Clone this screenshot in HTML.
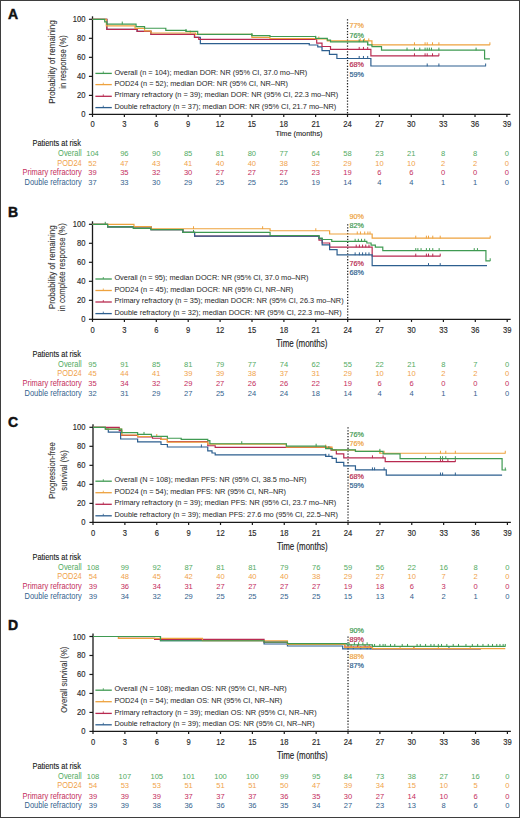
<!DOCTYPE html>
<html><head><meta charset="utf-8"><style>
html,body{margin:0;padding:0;background:#fff;}
body{width:520px;height:818px;overflow:hidden;}
.fr{position:absolute;left:0;top:0;width:518px;height:816px;border:1px solid #3e3e3e;}
svg{position:absolute;left:0;top:0;}
text{font-family:"Liberation Sans", sans-serif;}
</style></head><body>
<div class="fr"></div>
<svg width="520" height="818" viewBox="0 0 520 818">
<text x="7.90" y="18.70" font-size="14" font-weight="bold" fill="#111" stroke="#111" stroke-width="0.45">A</text>
<text transform="translate(54.50,62.00) rotate(-90)" x="0" y="0" font-size="8.9" text-anchor="middle" textLength="83.5" lengthAdjust="spacingAndGlyphs" fill="#333" stroke="#333" stroke-width="0.1">Probability of remaining</text>
<text transform="translate(65.90,62.00) rotate(-90)" x="0" y="0" font-size="8.9" text-anchor="middle" textLength="53.5" lengthAdjust="spacingAndGlyphs" fill="#333" stroke="#333" stroke-width="0.1">in response (%)</text>
<line x1="88.90" y1="114.40" x2="92.50" y2="114.40" stroke="#1a1a1a" stroke-width="1.2"/>
<text x="85.40" y="117.40" font-size="8.3" text-anchor="end" textLength="4.23" lengthAdjust="spacingAndGlyphs" fill="#2a2a2a" stroke="#2a2a2a" stroke-width="0.15">0</text>
<line x1="88.90" y1="95.38" x2="92.50" y2="95.38" stroke="#1a1a1a" stroke-width="1.2"/>
<text x="85.40" y="98.38" font-size="8.3" text-anchor="end" textLength="8.45" lengthAdjust="spacingAndGlyphs" fill="#2a2a2a" stroke="#2a2a2a" stroke-width="0.15">20</text>
<line x1="88.90" y1="76.36" x2="92.50" y2="76.36" stroke="#1a1a1a" stroke-width="1.2"/>
<text x="85.40" y="79.36" font-size="8.3" text-anchor="end" textLength="8.45" lengthAdjust="spacingAndGlyphs" fill="#2a2a2a" stroke="#2a2a2a" stroke-width="0.15">40</text>
<line x1="88.90" y1="57.34" x2="92.50" y2="57.34" stroke="#1a1a1a" stroke-width="1.2"/>
<text x="85.40" y="60.34" font-size="8.3" text-anchor="end" textLength="8.45" lengthAdjust="spacingAndGlyphs" fill="#2a2a2a" stroke="#2a2a2a" stroke-width="0.15">60</text>
<line x1="88.90" y1="38.32" x2="92.50" y2="38.32" stroke="#1a1a1a" stroke-width="1.2"/>
<text x="85.40" y="41.32" font-size="8.3" text-anchor="end" textLength="8.45" lengthAdjust="spacingAndGlyphs" fill="#2a2a2a" stroke="#2a2a2a" stroke-width="0.15">80</text>
<line x1="88.90" y1="19.30" x2="92.50" y2="19.30" stroke="#1a1a1a" stroke-width="1.2"/>
<text x="85.40" y="22.30" font-size="8.3" text-anchor="end" textLength="12.68" lengthAdjust="spacingAndGlyphs" fill="#2a2a2a" stroke="#2a2a2a" stroke-width="0.15">100</text>
<line x1="92.50" y1="114.40" x2="92.50" y2="117.00" stroke="#1a1a1a" stroke-width="1.2"/>
<text x="92.50" y="126.90" font-size="8.3" text-anchor="middle" textLength="4.23" lengthAdjust="spacingAndGlyphs" fill="#2a2a2a" stroke="#2a2a2a" stroke-width="0.15">0</text>
<line x1="124.38" y1="114.40" x2="124.38" y2="117.00" stroke="#1a1a1a" stroke-width="1.2"/>
<text x="124.38" y="126.90" font-size="8.3" text-anchor="middle" textLength="4.23" lengthAdjust="spacingAndGlyphs" fill="#2a2a2a" stroke="#2a2a2a" stroke-width="0.15">3</text>
<line x1="156.25" y1="114.40" x2="156.25" y2="117.00" stroke="#1a1a1a" stroke-width="1.2"/>
<text x="156.25" y="126.90" font-size="8.3" text-anchor="middle" textLength="4.23" lengthAdjust="spacingAndGlyphs" fill="#2a2a2a" stroke="#2a2a2a" stroke-width="0.15">6</text>
<line x1="188.13" y1="114.40" x2="188.13" y2="117.00" stroke="#1a1a1a" stroke-width="1.2"/>
<text x="188.13" y="126.90" font-size="8.3" text-anchor="middle" textLength="4.23" lengthAdjust="spacingAndGlyphs" fill="#2a2a2a" stroke="#2a2a2a" stroke-width="0.15">9</text>
<line x1="220.01" y1="114.40" x2="220.01" y2="117.00" stroke="#1a1a1a" stroke-width="1.2"/>
<text x="220.01" y="126.90" font-size="8.3" text-anchor="middle" textLength="8.45" lengthAdjust="spacingAndGlyphs" fill="#2a2a2a" stroke="#2a2a2a" stroke-width="0.15">12</text>
<line x1="251.88" y1="114.40" x2="251.88" y2="117.00" stroke="#1a1a1a" stroke-width="1.2"/>
<text x="251.88" y="126.90" font-size="8.3" text-anchor="middle" textLength="8.45" lengthAdjust="spacingAndGlyphs" fill="#2a2a2a" stroke="#2a2a2a" stroke-width="0.15">15</text>
<line x1="283.76" y1="114.40" x2="283.76" y2="117.00" stroke="#1a1a1a" stroke-width="1.2"/>
<text x="283.76" y="126.90" font-size="8.3" text-anchor="middle" textLength="8.45" lengthAdjust="spacingAndGlyphs" fill="#2a2a2a" stroke="#2a2a2a" stroke-width="0.15">18</text>
<line x1="315.64" y1="114.40" x2="315.64" y2="117.00" stroke="#1a1a1a" stroke-width="1.2"/>
<text x="315.64" y="126.90" font-size="8.3" text-anchor="middle" textLength="8.45" lengthAdjust="spacingAndGlyphs" fill="#2a2a2a" stroke="#2a2a2a" stroke-width="0.15">21</text>
<line x1="347.52" y1="114.40" x2="347.52" y2="117.00" stroke="#1a1a1a" stroke-width="1.2"/>
<text x="347.52" y="126.90" font-size="8.3" text-anchor="middle" textLength="8.45" lengthAdjust="spacingAndGlyphs" fill="#2a2a2a" stroke="#2a2a2a" stroke-width="0.15">24</text>
<line x1="379.39" y1="114.40" x2="379.39" y2="117.00" stroke="#1a1a1a" stroke-width="1.2"/>
<text x="379.39" y="126.90" font-size="8.3" text-anchor="middle" textLength="8.45" lengthAdjust="spacingAndGlyphs" fill="#2a2a2a" stroke="#2a2a2a" stroke-width="0.15">27</text>
<line x1="411.27" y1="114.40" x2="411.27" y2="117.00" stroke="#1a1a1a" stroke-width="1.2"/>
<text x="411.27" y="126.90" font-size="8.3" text-anchor="middle" textLength="8.45" lengthAdjust="spacingAndGlyphs" fill="#2a2a2a" stroke="#2a2a2a" stroke-width="0.15">30</text>
<line x1="443.15" y1="114.40" x2="443.15" y2="117.00" stroke="#1a1a1a" stroke-width="1.2"/>
<text x="443.15" y="126.90" font-size="8.3" text-anchor="middle" textLength="8.45" lengthAdjust="spacingAndGlyphs" fill="#2a2a2a" stroke="#2a2a2a" stroke-width="0.15">33</text>
<line x1="475.02" y1="114.40" x2="475.02" y2="117.00" stroke="#1a1a1a" stroke-width="1.2"/>
<text x="475.02" y="126.90" font-size="8.3" text-anchor="middle" textLength="8.45" lengthAdjust="spacingAndGlyphs" fill="#2a2a2a" stroke="#2a2a2a" stroke-width="0.15">36</text>
<line x1="506.90" y1="114.40" x2="506.90" y2="117.00" stroke="#1a1a1a" stroke-width="1.2"/>
<text x="506.90" y="126.90" font-size="8.3" text-anchor="middle" textLength="8.45" lengthAdjust="spacingAndGlyphs" fill="#2a2a2a" stroke="#2a2a2a" stroke-width="0.15">39</text>
<line x1="92.50" y1="16.30" x2="92.50" y2="115.00" stroke="#1a1a1a" stroke-width="1.3"/>
<line x1="91.90" y1="114.40" x2="510.40" y2="114.40" stroke="#1a1a1a" stroke-width="1.3"/>
<text x="299.00" y="136.30" font-size="7.4" text-anchor="middle" textLength="47" lengthAdjust="spacingAndGlyphs" fill="#222" stroke="#222" stroke-width="0.1">Time (months)</text>
<line x1="347.52" y1="19.30" x2="347.52" y2="114.40" stroke="#222" stroke-width="1.25" stroke-dasharray="1.3 1.6"/>
<path d="M92.50,19.30H106.84V29.38H137.13V31.28H150.94V34.42H194.51V37.37H200.35V43.55H309.26V44.98H317.76V46.97H322.01V50.68H329.45V54.30H336.89V58.48H370.89V65.99H485.65V65.99" fill="none" stroke="#2d5f8f" stroke-width="1.2"/>
<path d="M359.20,58.78v-2.8M363.45,58.78v-2.8M367.70,58.78v-2.8M427.21,66.29v-2.8M438.90,66.29v-2.8M485.65,66.29v-2.8" fill="none" stroke="#2d5f8f" stroke-width="1.0"/>
<path d="M92.50,19.30H106.84V29.38H137.13V31.28H150.94V34.42H194.51V37.37H198.76V39.37H316.70V43.08H322.01V46.50H330.51V49.45H370.89V55.82H438.90V55.82" fill="none" stroke="#b82a50" stroke-width="1.2"/>
<path d="M359.20,49.75v-2.8M363.45,49.75v-2.8M367.70,49.75v-2.8M414.46,56.12v-2.8M425.08,56.12v-2.8M427.21,56.12v-2.8M432.52,56.12v-2.8M438.90,56.12v-2.8" fill="none" stroke="#b82a50" stroke-width="1.0"/>
<path d="M92.50,19.30H106.31V25.96H135.00V28.43H144.57V30.90H150.94V32.99H195.57V34.42H251.88V37.37H269.95V38.51H315.64V38.99H327.33V40.89H371.95V44.79H489.90V44.79" fill="none" stroke="#eea23e" stroke-width="1.2"/>
<path d="M190.26,33.29v-2.8M318.83,39.29v-2.8M360.27,41.19v-2.8M364.52,41.19v-2.8M368.77,41.19v-2.8M414.46,45.09v-2.8M425.08,45.09v-2.8M427.21,45.09v-2.8M432.52,45.09v-2.8M438.90,45.09v-2.8M489.90,45.09v-2.8" fill="none" stroke="#eea23e" stroke-width="1.0"/>
<path d="M92.50,19.30H104.72V21.87H106.84V24.06H136.07V26.62H144.57V28.24H165.82V30.43H186.01V31.47H197.69V34.42H251.88V35.56H269.95V36.51H315.64V38.32H327.33V40.22H330.51V41.84H367.70V44.79H371.95V46.59H381.52V50.11H484.59V58.96H489.90V58.96" fill="none" stroke="#3f9a52" stroke-width="1.2"/>
<path d="M122.25,24.36v-2.8M186.01,31.77v-2.8M251.88,35.86v-2.8M315.64,38.62v-2.8M359.20,42.14v-2.8M363.45,42.14v-2.8M367.70,45.09v-2.8M407.02,50.41v-2.8M414.46,50.41v-2.8M419.77,50.41v-2.8M425.08,50.41v-2.8M427.21,50.41v-2.8M429.33,50.41v-2.8M431.46,50.41v-2.8M438.90,50.41v-2.8M476.09,50.41v-2.8" fill="none" stroke="#3f9a52" stroke-width="1.0"/>
<text x="349.40" y="27.90" font-size="7.5" textLength="14.41" lengthAdjust="spacingAndGlyphs" fill="#eea23e" stroke="#eea23e" stroke-width="0.2">77%</text>
<text x="349.40" y="37.60" font-size="7.5" textLength="14.41" lengthAdjust="spacingAndGlyphs" fill="#3f9a52" stroke="#3f9a52" stroke-width="0.2">76%</text>
<text x="349.40" y="67.40" font-size="7.5" textLength="14.41" lengthAdjust="spacingAndGlyphs" fill="#b82a50" stroke="#b82a50" stroke-width="0.2">68%</text>
<text x="349.40" y="76.50" font-size="7.5" textLength="14.41" lengthAdjust="spacingAndGlyphs" fill="#2d5f8f" stroke="#2d5f8f" stroke-width="0.2">59%</text>
<line x1="95.40" y1="73.40" x2="111.80" y2="73.40" stroke="#3f9a52" stroke-width="1.3"/>
<line x1="103.30" y1="73.40" x2="103.30" y2="71.40" stroke="#3f9a52" stroke-width="0.8"/>
<text x="114.40" y="74.50" font-size="7.8" textLength="192.85" lengthAdjust="spacingAndGlyphs" fill="#1e1e1e">Overall (n = 104); median DOR: NR (95% CI, 37.0 mo–NR)</text>
<line x1="95.40" y1="84.60" x2="111.80" y2="84.60" stroke="#eea23e" stroke-width="1.3"/>
<line x1="103.30" y1="84.60" x2="103.30" y2="82.60" stroke="#eea23e" stroke-width="0.8"/>
<text x="114.40" y="85.70" font-size="7.8" textLength="173.62" lengthAdjust="spacingAndGlyphs" fill="#1e1e1e">POD24 (n = 52); median DOR: NR (95% CI, NR–NR)</text>
<line x1="95.40" y1="96.30" x2="111.80" y2="96.30" stroke="#b82a50" stroke-width="1.3"/>
<line x1="103.30" y1="96.30" x2="103.30" y2="94.30" stroke="#b82a50" stroke-width="0.8"/>
<text x="114.40" y="97.40" font-size="7.8" textLength="223.92" lengthAdjust="spacingAndGlyphs" fill="#1e1e1e">Primary refractory (n = 39); median DOR: NR (95% CI, 22.3 mo–NR)</text>
<line x1="95.40" y1="107.60" x2="111.80" y2="107.60" stroke="#2d5f8f" stroke-width="1.3"/>
<line x1="103.30" y1="107.60" x2="103.30" y2="105.60" stroke="#2d5f8f" stroke-width="0.8"/>
<text x="114.40" y="108.70" font-size="7.8" textLength="221.89" lengthAdjust="spacingAndGlyphs" fill="#1e1e1e">Double refractory (n = 37); median DOR: NR (95% CI, 21.7 mo–NR)</text>
<text x="32.50" y="146.30" font-size="8.2" textLength="48.53" lengthAdjust="spacingAndGlyphs" fill="#151515" stroke="#151515" stroke-width="0.1">Patients at risk</text>
<text x="81.70" y="155.80" font-size="8.2" text-anchor="end" textLength="23.6" lengthAdjust="spacingAndGlyphs" fill="#52aa62">Overall</text>
<text x="92.50" y="155.80" font-size="8.0" text-anchor="middle" textLength="12.6" lengthAdjust="spacingAndGlyphs" fill="#52aa62">104</text>
<text x="124.38" y="155.80" font-size="8.0" text-anchor="middle" textLength="8.4" lengthAdjust="spacingAndGlyphs" fill="#52aa62">96</text>
<text x="156.25" y="155.80" font-size="8.0" text-anchor="middle" textLength="8.4" lengthAdjust="spacingAndGlyphs" fill="#52aa62">90</text>
<text x="188.13" y="155.80" font-size="8.0" text-anchor="middle" textLength="8.4" lengthAdjust="spacingAndGlyphs" fill="#52aa62">85</text>
<text x="220.01" y="155.80" font-size="8.0" text-anchor="middle" textLength="8.4" lengthAdjust="spacingAndGlyphs" fill="#52aa62">81</text>
<text x="251.88" y="155.80" font-size="8.0" text-anchor="middle" textLength="8.4" lengthAdjust="spacingAndGlyphs" fill="#52aa62">80</text>
<text x="283.76" y="155.80" font-size="8.0" text-anchor="middle" textLength="8.4" lengthAdjust="spacingAndGlyphs" fill="#52aa62">77</text>
<text x="315.64" y="155.80" font-size="8.0" text-anchor="middle" textLength="8.4" lengthAdjust="spacingAndGlyphs" fill="#52aa62">64</text>
<text x="347.52" y="155.80" font-size="8.0" text-anchor="middle" textLength="8.4" lengthAdjust="spacingAndGlyphs" fill="#52aa62">58</text>
<text x="379.39" y="155.80" font-size="8.0" text-anchor="middle" textLength="8.4" lengthAdjust="spacingAndGlyphs" fill="#52aa62">23</text>
<text x="411.27" y="155.80" font-size="8.0" text-anchor="middle" textLength="8.4" lengthAdjust="spacingAndGlyphs" fill="#52aa62">21</text>
<text x="443.15" y="155.80" font-size="8.0" text-anchor="middle" textLength="4.2" lengthAdjust="spacingAndGlyphs" fill="#52aa62">8</text>
<text x="475.02" y="155.80" font-size="8.0" text-anchor="middle" textLength="4.2" lengthAdjust="spacingAndGlyphs" fill="#52aa62">8</text>
<text x="506.90" y="155.80" font-size="8.0" text-anchor="middle" textLength="4.2" lengthAdjust="spacingAndGlyphs" fill="#52aa62">0</text>
<text x="81.70" y="165.60" font-size="8.2" text-anchor="end" textLength="24.43" lengthAdjust="spacingAndGlyphs" fill="#f0a24a">POD24</text>
<text x="92.50" y="165.60" font-size="8.0" text-anchor="middle" textLength="8.4" lengthAdjust="spacingAndGlyphs" fill="#f0a24a">52</text>
<text x="124.38" y="165.60" font-size="8.0" text-anchor="middle" textLength="8.4" lengthAdjust="spacingAndGlyphs" fill="#f0a24a">47</text>
<text x="156.25" y="165.60" font-size="8.0" text-anchor="middle" textLength="8.4" lengthAdjust="spacingAndGlyphs" fill="#f0a24a">43</text>
<text x="188.13" y="165.60" font-size="8.0" text-anchor="middle" textLength="8.4" lengthAdjust="spacingAndGlyphs" fill="#f0a24a">41</text>
<text x="220.01" y="165.60" font-size="8.0" text-anchor="middle" textLength="8.4" lengthAdjust="spacingAndGlyphs" fill="#f0a24a">40</text>
<text x="251.88" y="165.60" font-size="8.0" text-anchor="middle" textLength="8.4" lengthAdjust="spacingAndGlyphs" fill="#f0a24a">40</text>
<text x="283.76" y="165.60" font-size="8.0" text-anchor="middle" textLength="8.4" lengthAdjust="spacingAndGlyphs" fill="#f0a24a">38</text>
<text x="315.64" y="165.60" font-size="8.0" text-anchor="middle" textLength="8.4" lengthAdjust="spacingAndGlyphs" fill="#f0a24a">32</text>
<text x="347.52" y="165.60" font-size="8.0" text-anchor="middle" textLength="8.4" lengthAdjust="spacingAndGlyphs" fill="#f0a24a">29</text>
<text x="379.39" y="165.60" font-size="8.0" text-anchor="middle" textLength="8.4" lengthAdjust="spacingAndGlyphs" fill="#f0a24a">10</text>
<text x="411.27" y="165.60" font-size="8.0" text-anchor="middle" textLength="8.4" lengthAdjust="spacingAndGlyphs" fill="#f0a24a">10</text>
<text x="443.15" y="165.60" font-size="8.0" text-anchor="middle" textLength="4.2" lengthAdjust="spacingAndGlyphs" fill="#f0a24a">2</text>
<text x="475.02" y="165.60" font-size="8.0" text-anchor="middle" textLength="4.2" lengthAdjust="spacingAndGlyphs" fill="#f0a24a">2</text>
<text x="506.90" y="165.60" font-size="8.0" text-anchor="middle" textLength="4.2" lengthAdjust="spacingAndGlyphs" fill="#f0a24a">0</text>
<text x="81.70" y="175.20" font-size="8.2" text-anchor="end" textLength="59.19" lengthAdjust="spacingAndGlyphs" fill="#c42c5c">Primary refractory</text>
<text x="92.50" y="175.20" font-size="8.0" text-anchor="middle" textLength="8.4" lengthAdjust="spacingAndGlyphs" fill="#c42c5c">39</text>
<text x="124.38" y="175.20" font-size="8.0" text-anchor="middle" textLength="8.4" lengthAdjust="spacingAndGlyphs" fill="#c42c5c">35</text>
<text x="156.25" y="175.20" font-size="8.0" text-anchor="middle" textLength="8.4" lengthAdjust="spacingAndGlyphs" fill="#c42c5c">32</text>
<text x="188.13" y="175.20" font-size="8.0" text-anchor="middle" textLength="8.4" lengthAdjust="spacingAndGlyphs" fill="#c42c5c">30</text>
<text x="220.01" y="175.20" font-size="8.0" text-anchor="middle" textLength="8.4" lengthAdjust="spacingAndGlyphs" fill="#c42c5c">27</text>
<text x="251.88" y="175.20" font-size="8.0" text-anchor="middle" textLength="8.4" lengthAdjust="spacingAndGlyphs" fill="#c42c5c">27</text>
<text x="283.76" y="175.20" font-size="8.0" text-anchor="middle" textLength="8.4" lengthAdjust="spacingAndGlyphs" fill="#c42c5c">27</text>
<text x="315.64" y="175.20" font-size="8.0" text-anchor="middle" textLength="8.4" lengthAdjust="spacingAndGlyphs" fill="#c42c5c">23</text>
<text x="347.52" y="175.20" font-size="8.0" text-anchor="middle" textLength="8.4" lengthAdjust="spacingAndGlyphs" fill="#c42c5c">19</text>
<text x="379.39" y="175.20" font-size="8.0" text-anchor="middle" textLength="4.2" lengthAdjust="spacingAndGlyphs" fill="#c42c5c">6</text>
<text x="411.27" y="175.20" font-size="8.0" text-anchor="middle" textLength="4.2" lengthAdjust="spacingAndGlyphs" fill="#c42c5c">6</text>
<text x="443.15" y="175.20" font-size="8.0" text-anchor="middle" textLength="4.2" lengthAdjust="spacingAndGlyphs" fill="#c42c5c">0</text>
<text x="475.02" y="175.20" font-size="8.0" text-anchor="middle" textLength="4.2" lengthAdjust="spacingAndGlyphs" fill="#c42c5c">0</text>
<text x="506.90" y="175.20" font-size="8.0" text-anchor="middle" textLength="4.2" lengthAdjust="spacingAndGlyphs" fill="#c42c5c">0</text>
<text x="81.70" y="185.20" font-size="8.2" text-anchor="end" textLength="57.14" lengthAdjust="spacingAndGlyphs" fill="#345f8e">Double refractory</text>
<text x="92.50" y="185.20" font-size="8.0" text-anchor="middle" textLength="8.4" lengthAdjust="spacingAndGlyphs" fill="#345f8e">37</text>
<text x="124.38" y="185.20" font-size="8.0" text-anchor="middle" textLength="8.4" lengthAdjust="spacingAndGlyphs" fill="#345f8e">33</text>
<text x="156.25" y="185.20" font-size="8.0" text-anchor="middle" textLength="8.4" lengthAdjust="spacingAndGlyphs" fill="#345f8e">30</text>
<text x="188.13" y="185.20" font-size="8.0" text-anchor="middle" textLength="8.4" lengthAdjust="spacingAndGlyphs" fill="#345f8e">29</text>
<text x="220.01" y="185.20" font-size="8.0" text-anchor="middle" textLength="8.4" lengthAdjust="spacingAndGlyphs" fill="#345f8e">25</text>
<text x="251.88" y="185.20" font-size="8.0" text-anchor="middle" textLength="8.4" lengthAdjust="spacingAndGlyphs" fill="#345f8e">25</text>
<text x="283.76" y="185.20" font-size="8.0" text-anchor="middle" textLength="8.4" lengthAdjust="spacingAndGlyphs" fill="#345f8e">25</text>
<text x="315.64" y="185.20" font-size="8.0" text-anchor="middle" textLength="8.4" lengthAdjust="spacingAndGlyphs" fill="#345f8e">19</text>
<text x="347.52" y="185.20" font-size="8.0" text-anchor="middle" textLength="8.4" lengthAdjust="spacingAndGlyphs" fill="#345f8e">14</text>
<text x="379.39" y="185.20" font-size="8.0" text-anchor="middle" textLength="4.2" lengthAdjust="spacingAndGlyphs" fill="#345f8e">4</text>
<text x="411.27" y="185.20" font-size="8.0" text-anchor="middle" textLength="4.2" lengthAdjust="spacingAndGlyphs" fill="#345f8e">4</text>
<text x="443.15" y="185.20" font-size="8.0" text-anchor="middle" textLength="4.2" lengthAdjust="spacingAndGlyphs" fill="#345f8e">1</text>
<text x="475.02" y="185.20" font-size="8.0" text-anchor="middle" textLength="4.2" lengthAdjust="spacingAndGlyphs" fill="#345f8e">1</text>
<text x="506.90" y="185.20" font-size="8.0" text-anchor="middle" textLength="4.2" lengthAdjust="spacingAndGlyphs" fill="#345f8e">0</text>
<text x="7.90" y="216.70" font-size="14" font-weight="bold" fill="#111" stroke="#111" stroke-width="0.45">B</text>
<text transform="translate(54.60,267.20) rotate(-90)" x="0" y="0" font-size="8.9" text-anchor="middle" textLength="84" lengthAdjust="spacingAndGlyphs" fill="#333" stroke="#333" stroke-width="0.1">Probability of remaining</text>
<text transform="translate(65.40,267.20) rotate(-90)" x="0" y="0" font-size="8.9" text-anchor="middle" textLength="88" lengthAdjust="spacingAndGlyphs" fill="#333" stroke="#333" stroke-width="0.1">in complete response (%)</text>
<line x1="88.90" y1="319.30" x2="92.50" y2="319.30" stroke="#1a1a1a" stroke-width="1.2"/>
<text x="85.40" y="322.30" font-size="8.3" text-anchor="end" textLength="4.23" lengthAdjust="spacingAndGlyphs" fill="#2a2a2a" stroke="#2a2a2a" stroke-width="0.15">0</text>
<line x1="88.90" y1="300.30" x2="92.50" y2="300.30" stroke="#1a1a1a" stroke-width="1.2"/>
<text x="85.40" y="303.30" font-size="8.3" text-anchor="end" textLength="8.45" lengthAdjust="spacingAndGlyphs" fill="#2a2a2a" stroke="#2a2a2a" stroke-width="0.15">20</text>
<line x1="88.90" y1="281.30" x2="92.50" y2="281.30" stroke="#1a1a1a" stroke-width="1.2"/>
<text x="85.40" y="284.30" font-size="8.3" text-anchor="end" textLength="8.45" lengthAdjust="spacingAndGlyphs" fill="#2a2a2a" stroke="#2a2a2a" stroke-width="0.15">40</text>
<line x1="88.90" y1="262.30" x2="92.50" y2="262.30" stroke="#1a1a1a" stroke-width="1.2"/>
<text x="85.40" y="265.30" font-size="8.3" text-anchor="end" textLength="8.45" lengthAdjust="spacingAndGlyphs" fill="#2a2a2a" stroke="#2a2a2a" stroke-width="0.15">60</text>
<line x1="88.90" y1="243.30" x2="92.50" y2="243.30" stroke="#1a1a1a" stroke-width="1.2"/>
<text x="85.40" y="246.30" font-size="8.3" text-anchor="end" textLength="8.45" lengthAdjust="spacingAndGlyphs" fill="#2a2a2a" stroke="#2a2a2a" stroke-width="0.15">80</text>
<line x1="88.90" y1="224.30" x2="92.50" y2="224.30" stroke="#1a1a1a" stroke-width="1.2"/>
<text x="85.40" y="227.30" font-size="8.3" text-anchor="end" textLength="12.68" lengthAdjust="spacingAndGlyphs" fill="#2a2a2a" stroke="#2a2a2a" stroke-width="0.15">100</text>
<line x1="92.50" y1="319.30" x2="92.50" y2="321.90" stroke="#1a1a1a" stroke-width="1.2"/>
<text x="92.50" y="332.60" font-size="8.3" text-anchor="middle" textLength="4.23" lengthAdjust="spacingAndGlyphs" fill="#2a2a2a" stroke="#2a2a2a" stroke-width="0.15">0</text>
<line x1="124.40" y1="319.30" x2="124.40" y2="321.90" stroke="#1a1a1a" stroke-width="1.2"/>
<text x="124.40" y="332.60" font-size="8.3" text-anchor="middle" textLength="4.23" lengthAdjust="spacingAndGlyphs" fill="#2a2a2a" stroke="#2a2a2a" stroke-width="0.15">3</text>
<line x1="156.30" y1="319.30" x2="156.30" y2="321.90" stroke="#1a1a1a" stroke-width="1.2"/>
<text x="156.30" y="332.60" font-size="8.3" text-anchor="middle" textLength="4.23" lengthAdjust="spacingAndGlyphs" fill="#2a2a2a" stroke="#2a2a2a" stroke-width="0.15">6</text>
<line x1="188.20" y1="319.30" x2="188.20" y2="321.90" stroke="#1a1a1a" stroke-width="1.2"/>
<text x="188.20" y="332.60" font-size="8.3" text-anchor="middle" textLength="4.23" lengthAdjust="spacingAndGlyphs" fill="#2a2a2a" stroke="#2a2a2a" stroke-width="0.15">9</text>
<line x1="220.10" y1="319.30" x2="220.10" y2="321.90" stroke="#1a1a1a" stroke-width="1.2"/>
<text x="220.10" y="332.60" font-size="8.3" text-anchor="middle" textLength="8.45" lengthAdjust="spacingAndGlyphs" fill="#2a2a2a" stroke="#2a2a2a" stroke-width="0.15">12</text>
<line x1="252.00" y1="319.30" x2="252.00" y2="321.90" stroke="#1a1a1a" stroke-width="1.2"/>
<text x="252.00" y="332.60" font-size="8.3" text-anchor="middle" textLength="8.45" lengthAdjust="spacingAndGlyphs" fill="#2a2a2a" stroke="#2a2a2a" stroke-width="0.15">15</text>
<line x1="283.90" y1="319.30" x2="283.90" y2="321.90" stroke="#1a1a1a" stroke-width="1.2"/>
<text x="283.90" y="332.60" font-size="8.3" text-anchor="middle" textLength="8.45" lengthAdjust="spacingAndGlyphs" fill="#2a2a2a" stroke="#2a2a2a" stroke-width="0.15">18</text>
<line x1="315.80" y1="319.30" x2="315.80" y2="321.90" stroke="#1a1a1a" stroke-width="1.2"/>
<text x="315.80" y="332.60" font-size="8.3" text-anchor="middle" textLength="8.45" lengthAdjust="spacingAndGlyphs" fill="#2a2a2a" stroke="#2a2a2a" stroke-width="0.15">21</text>
<line x1="347.70" y1="319.30" x2="347.70" y2="321.90" stroke="#1a1a1a" stroke-width="1.2"/>
<text x="347.70" y="332.60" font-size="8.3" text-anchor="middle" textLength="8.45" lengthAdjust="spacingAndGlyphs" fill="#2a2a2a" stroke="#2a2a2a" stroke-width="0.15">24</text>
<line x1="379.60" y1="319.30" x2="379.60" y2="321.90" stroke="#1a1a1a" stroke-width="1.2"/>
<text x="379.60" y="332.60" font-size="8.3" text-anchor="middle" textLength="8.45" lengthAdjust="spacingAndGlyphs" fill="#2a2a2a" stroke="#2a2a2a" stroke-width="0.15">27</text>
<line x1="411.50" y1="319.30" x2="411.50" y2="321.90" stroke="#1a1a1a" stroke-width="1.2"/>
<text x="411.50" y="332.60" font-size="8.3" text-anchor="middle" textLength="8.45" lengthAdjust="spacingAndGlyphs" fill="#2a2a2a" stroke="#2a2a2a" stroke-width="0.15">30</text>
<line x1="443.40" y1="319.30" x2="443.40" y2="321.90" stroke="#1a1a1a" stroke-width="1.2"/>
<text x="443.40" y="332.60" font-size="8.3" text-anchor="middle" textLength="8.45" lengthAdjust="spacingAndGlyphs" fill="#2a2a2a" stroke="#2a2a2a" stroke-width="0.15">33</text>
<line x1="475.30" y1="319.30" x2="475.30" y2="321.90" stroke="#1a1a1a" stroke-width="1.2"/>
<text x="475.30" y="332.60" font-size="8.3" text-anchor="middle" textLength="8.45" lengthAdjust="spacingAndGlyphs" fill="#2a2a2a" stroke="#2a2a2a" stroke-width="0.15">36</text>
<line x1="507.20" y1="319.30" x2="507.20" y2="321.90" stroke="#1a1a1a" stroke-width="1.2"/>
<text x="507.20" y="332.60" font-size="8.3" text-anchor="middle" textLength="8.45" lengthAdjust="spacingAndGlyphs" fill="#2a2a2a" stroke="#2a2a2a" stroke-width="0.15">39</text>
<line x1="92.50" y1="221.30" x2="92.50" y2="319.90" stroke="#1a1a1a" stroke-width="1.3"/>
<line x1="91.90" y1="319.30" x2="510.70" y2="319.30" stroke="#1a1a1a" stroke-width="1.3"/>
<text x="276.30" y="346.70" font-size="10.4" textLength="51" lengthAdjust="spacingAndGlyphs" fill="#222" stroke="#222" stroke-width="0.15">Time (months)</text>
<line x1="347.70" y1="224.30" x2="347.70" y2="319.30" stroke="#222" stroke-width="1.25" stroke-dasharray="1.3 1.6"/>
<path d="M92.50,224.30H107.60V226.87H150.98V229.53H182.88V232.47H194.58V236.08H318.99V240.07H322.18V243.02H329.62V247.10H372.16V256.12H440.21V256.12" fill="none" stroke="#b82a50" stroke-width="1.2"/>
<path d="M356.21,247.40v-2.8M359.40,247.40v-2.8M362.59,247.40v-2.8M365.78,247.40v-2.8M368.97,247.40v-2.8M415.75,256.43v-2.8M426.39,256.43v-2.8M428.51,256.43v-2.8M432.77,256.43v-2.8M440.21,256.43v-2.8" fill="none" stroke="#b82a50" stroke-width="1.0"/>
<path d="M92.50,224.30H107.60V226.87H150.98V229.53H182.88V232.47H194.58V236.08H318.99V238.55H322.18V244.92H329.62V249.67H337.07V254.89H372.16V265.62H487.00V265.62" fill="none" stroke="#2d5f8f" stroke-width="1.2"/>
<path d="M355.14,255.19v-2.8M359.40,255.19v-2.8M362.59,255.19v-2.8M365.78,255.19v-2.8M368.97,255.19v-2.8M428.51,265.93v-2.8M440.21,265.93v-2.8" fill="none" stroke="#2d5f8f" stroke-width="1.0"/>
<path d="M92.50,224.30H133.97V226.68H150.98V228.77H270.08V230.76H329.62V233.99H372.16V238.17H490.19V238.17" fill="none" stroke="#eea23e" stroke-width="1.2"/>
<path d="M193.52,229.07v-2.8M262.63,229.07v-2.8M315.80,231.06v-2.8M357.27,234.29v-2.8M360.46,234.29v-2.8M364.71,234.29v-2.8M367.90,234.29v-2.8M370.03,234.29v-2.8M415.75,238.47v-2.8M426.39,238.47v-2.8M428.51,238.47v-2.8M432.77,238.47v-2.8M440.21,238.47v-2.8M490.19,238.47v-2.8" fill="none" stroke="#eea23e" stroke-width="1.0"/>
<path d="M92.50,224.30H107.60V226.87H133.23V228.29H150.98V229.53H182.88V232.47H270.08V235.51H318.99V238.17H322.18V239.50H331.75V241.31H366.84V243.02H371.09V245.20H375.35V247.10H382.79V250.62H485.93V260.78H490.19V260.78" fill="none" stroke="#3f9a52" stroke-width="1.2"/>
<path d="M105.26,224.60v-2.8M193.52,232.77v-2.8M355.14,241.61v-2.8M358.33,241.61v-2.8M361.52,241.61v-2.8M364.71,241.61v-2.8M415.75,250.92v-2.8M417.88,250.92v-2.8M421.07,250.92v-2.8M426.39,250.92v-2.8M429.58,250.92v-2.8M432.77,250.92v-2.8M439.15,250.92v-2.8M474.24,250.92v-2.8M477.43,250.92v-2.8M490.19,261.08v-2.8" fill="none" stroke="#3f9a52" stroke-width="1.0"/>
<text x="349.40" y="218.60" font-size="7.5" textLength="14.41" lengthAdjust="spacingAndGlyphs" fill="#eea23e" stroke="#eea23e" stroke-width="0.2">90%</text>
<text x="349.40" y="227.80" font-size="7.5" textLength="14.41" lengthAdjust="spacingAndGlyphs" fill="#3f9a52" stroke="#3f9a52" stroke-width="0.2">82%</text>
<text x="349.40" y="265.60" font-size="7.5" textLength="14.41" lengthAdjust="spacingAndGlyphs" fill="#b82a50" stroke="#b82a50" stroke-width="0.2">76%</text>
<text x="349.40" y="274.80" font-size="7.5" textLength="14.41" lengthAdjust="spacingAndGlyphs" fill="#2d5f8f" stroke="#2d5f8f" stroke-width="0.2">68%</text>
<line x1="95.40" y1="279.00" x2="111.80" y2="279.00" stroke="#3f9a52" stroke-width="1.3"/>
<line x1="103.30" y1="279.00" x2="103.30" y2="277.00" stroke="#3f9a52" stroke-width="0.8"/>
<text x="114.40" y="280.10" font-size="7.8" textLength="194.07" lengthAdjust="spacingAndGlyphs" fill="#1e1e1e">Overall (n = 95); median DOCR: NR (95% CI, 37.0 mo–NR)</text>
<line x1="95.40" y1="290.50" x2="111.80" y2="290.50" stroke="#eea23e" stroke-width="1.3"/>
<line x1="103.30" y1="290.50" x2="103.30" y2="288.50" stroke="#eea23e" stroke-width="0.8"/>
<text x="114.40" y="291.60" font-size="7.8" textLength="178.93" lengthAdjust="spacingAndGlyphs" fill="#1e1e1e">POD24 (n = 45); median DOCR: NR (95% CI, NR–NR)</text>
<line x1="95.40" y1="302.00" x2="111.80" y2="302.00" stroke="#b82a50" stroke-width="1.3"/>
<line x1="103.30" y1="302.00" x2="103.30" y2="300.00" stroke="#b82a50" stroke-width="0.8"/>
<text x="114.40" y="303.10" font-size="7.8" textLength="229.23" lengthAdjust="spacingAndGlyphs" fill="#1e1e1e">Primary refractory (n = 35); median DOCR: NR (95% CI, 26.3 mo–NR)</text>
<line x1="95.40" y1="313.60" x2="111.80" y2="313.60" stroke="#2d5f8f" stroke-width="1.3"/>
<line x1="103.30" y1="313.60" x2="103.30" y2="311.60" stroke="#2d5f8f" stroke-width="0.8"/>
<text x="114.40" y="314.70" font-size="7.8" textLength="227.21" lengthAdjust="spacingAndGlyphs" fill="#1e1e1e">Double refractory (n = 32); median DOCR: NR (95% CI, 22.3 mo–NR)</text>
<text x="32.50" y="356.70" font-size="8.2" textLength="48.53" lengthAdjust="spacingAndGlyphs" fill="#151515" stroke="#151515" stroke-width="0.1">Patients at risk</text>
<text x="81.70" y="366.50" font-size="8.2" text-anchor="end" textLength="23.6" lengthAdjust="spacingAndGlyphs" fill="#52aa62">Overall</text>
<text x="92.50" y="366.50" font-size="8.0" text-anchor="middle" textLength="8.4" lengthAdjust="spacingAndGlyphs" fill="#52aa62">95</text>
<text x="124.40" y="366.50" font-size="8.0" text-anchor="middle" textLength="8.4" lengthAdjust="spacingAndGlyphs" fill="#52aa62">91</text>
<text x="156.30" y="366.50" font-size="8.0" text-anchor="middle" textLength="8.4" lengthAdjust="spacingAndGlyphs" fill="#52aa62">85</text>
<text x="188.20" y="366.50" font-size="8.0" text-anchor="middle" textLength="8.4" lengthAdjust="spacingAndGlyphs" fill="#52aa62">81</text>
<text x="220.10" y="366.50" font-size="8.0" text-anchor="middle" textLength="8.4" lengthAdjust="spacingAndGlyphs" fill="#52aa62">79</text>
<text x="252.00" y="366.50" font-size="8.0" text-anchor="middle" textLength="8.4" lengthAdjust="spacingAndGlyphs" fill="#52aa62">77</text>
<text x="283.90" y="366.50" font-size="8.0" text-anchor="middle" textLength="8.4" lengthAdjust="spacingAndGlyphs" fill="#52aa62">74</text>
<text x="315.80" y="366.50" font-size="8.0" text-anchor="middle" textLength="8.4" lengthAdjust="spacingAndGlyphs" fill="#52aa62">62</text>
<text x="347.70" y="366.50" font-size="8.0" text-anchor="middle" textLength="8.4" lengthAdjust="spacingAndGlyphs" fill="#52aa62">55</text>
<text x="379.60" y="366.50" font-size="8.0" text-anchor="middle" textLength="8.4" lengthAdjust="spacingAndGlyphs" fill="#52aa62">22</text>
<text x="411.50" y="366.50" font-size="8.0" text-anchor="middle" textLength="8.4" lengthAdjust="spacingAndGlyphs" fill="#52aa62">21</text>
<text x="443.40" y="366.50" font-size="8.0" text-anchor="middle" textLength="4.2" lengthAdjust="spacingAndGlyphs" fill="#52aa62">8</text>
<text x="475.30" y="366.50" font-size="8.0" text-anchor="middle" textLength="4.2" lengthAdjust="spacingAndGlyphs" fill="#52aa62">7</text>
<text x="507.20" y="366.50" font-size="8.0" text-anchor="middle" textLength="4.2" lengthAdjust="spacingAndGlyphs" fill="#52aa62">0</text>
<text x="81.70" y="376.30" font-size="8.2" text-anchor="end" textLength="24.43" lengthAdjust="spacingAndGlyphs" fill="#f0a24a">POD24</text>
<text x="92.50" y="376.30" font-size="8.0" text-anchor="middle" textLength="8.4" lengthAdjust="spacingAndGlyphs" fill="#f0a24a">45</text>
<text x="124.40" y="376.30" font-size="8.0" text-anchor="middle" textLength="8.4" lengthAdjust="spacingAndGlyphs" fill="#f0a24a">44</text>
<text x="156.30" y="376.30" font-size="8.0" text-anchor="middle" textLength="8.4" lengthAdjust="spacingAndGlyphs" fill="#f0a24a">41</text>
<text x="188.20" y="376.30" font-size="8.0" text-anchor="middle" textLength="8.4" lengthAdjust="spacingAndGlyphs" fill="#f0a24a">39</text>
<text x="220.10" y="376.30" font-size="8.0" text-anchor="middle" textLength="8.4" lengthAdjust="spacingAndGlyphs" fill="#f0a24a">39</text>
<text x="252.00" y="376.30" font-size="8.0" text-anchor="middle" textLength="8.4" lengthAdjust="spacingAndGlyphs" fill="#f0a24a">38</text>
<text x="283.90" y="376.30" font-size="8.0" text-anchor="middle" textLength="8.4" lengthAdjust="spacingAndGlyphs" fill="#f0a24a">37</text>
<text x="315.80" y="376.30" font-size="8.0" text-anchor="middle" textLength="8.4" lengthAdjust="spacingAndGlyphs" fill="#f0a24a">31</text>
<text x="347.70" y="376.30" font-size="8.0" text-anchor="middle" textLength="8.4" lengthAdjust="spacingAndGlyphs" fill="#f0a24a">29</text>
<text x="379.60" y="376.30" font-size="8.0" text-anchor="middle" textLength="8.4" lengthAdjust="spacingAndGlyphs" fill="#f0a24a">10</text>
<text x="411.50" y="376.30" font-size="8.0" text-anchor="middle" textLength="8.4" lengthAdjust="spacingAndGlyphs" fill="#f0a24a">10</text>
<text x="443.40" y="376.30" font-size="8.0" text-anchor="middle" textLength="4.2" lengthAdjust="spacingAndGlyphs" fill="#f0a24a">2</text>
<text x="475.30" y="376.30" font-size="8.0" text-anchor="middle" textLength="4.2" lengthAdjust="spacingAndGlyphs" fill="#f0a24a">2</text>
<text x="507.20" y="376.30" font-size="8.0" text-anchor="middle" textLength="4.2" lengthAdjust="spacingAndGlyphs" fill="#f0a24a">0</text>
<text x="81.70" y="386.00" font-size="8.2" text-anchor="end" textLength="59.19" lengthAdjust="spacingAndGlyphs" fill="#c42c5c">Primary refractory</text>
<text x="92.50" y="386.00" font-size="8.0" text-anchor="middle" textLength="8.4" lengthAdjust="spacingAndGlyphs" fill="#c42c5c">35</text>
<text x="124.40" y="386.00" font-size="8.0" text-anchor="middle" textLength="8.4" lengthAdjust="spacingAndGlyphs" fill="#c42c5c">34</text>
<text x="156.30" y="386.00" font-size="8.0" text-anchor="middle" textLength="8.4" lengthAdjust="spacingAndGlyphs" fill="#c42c5c">32</text>
<text x="188.20" y="386.00" font-size="8.0" text-anchor="middle" textLength="8.4" lengthAdjust="spacingAndGlyphs" fill="#c42c5c">29</text>
<text x="220.10" y="386.00" font-size="8.0" text-anchor="middle" textLength="8.4" lengthAdjust="spacingAndGlyphs" fill="#c42c5c">27</text>
<text x="252.00" y="386.00" font-size="8.0" text-anchor="middle" textLength="8.4" lengthAdjust="spacingAndGlyphs" fill="#c42c5c">26</text>
<text x="283.90" y="386.00" font-size="8.0" text-anchor="middle" textLength="8.4" lengthAdjust="spacingAndGlyphs" fill="#c42c5c">26</text>
<text x="315.80" y="386.00" font-size="8.0" text-anchor="middle" textLength="8.4" lengthAdjust="spacingAndGlyphs" fill="#c42c5c">22</text>
<text x="347.70" y="386.00" font-size="8.0" text-anchor="middle" textLength="8.4" lengthAdjust="spacingAndGlyphs" fill="#c42c5c">19</text>
<text x="379.60" y="386.00" font-size="8.0" text-anchor="middle" textLength="4.2" lengthAdjust="spacingAndGlyphs" fill="#c42c5c">6</text>
<text x="411.50" y="386.00" font-size="8.0" text-anchor="middle" textLength="4.2" lengthAdjust="spacingAndGlyphs" fill="#c42c5c">6</text>
<text x="443.40" y="386.00" font-size="8.0" text-anchor="middle" textLength="4.2" lengthAdjust="spacingAndGlyphs" fill="#c42c5c">0</text>
<text x="475.30" y="386.00" font-size="8.0" text-anchor="middle" textLength="4.2" lengthAdjust="spacingAndGlyphs" fill="#c42c5c">0</text>
<text x="507.20" y="386.00" font-size="8.0" text-anchor="middle" textLength="4.2" lengthAdjust="spacingAndGlyphs" fill="#c42c5c">0</text>
<text x="81.70" y="396.00" font-size="8.2" text-anchor="end" textLength="57.14" lengthAdjust="spacingAndGlyphs" fill="#345f8e">Double refractory</text>
<text x="92.50" y="396.00" font-size="8.0" text-anchor="middle" textLength="8.4" lengthAdjust="spacingAndGlyphs" fill="#345f8e">32</text>
<text x="124.40" y="396.00" font-size="8.0" text-anchor="middle" textLength="8.4" lengthAdjust="spacingAndGlyphs" fill="#345f8e">31</text>
<text x="156.30" y="396.00" font-size="8.0" text-anchor="middle" textLength="8.4" lengthAdjust="spacingAndGlyphs" fill="#345f8e">29</text>
<text x="188.20" y="396.00" font-size="8.0" text-anchor="middle" textLength="8.4" lengthAdjust="spacingAndGlyphs" fill="#345f8e">27</text>
<text x="220.10" y="396.00" font-size="8.0" text-anchor="middle" textLength="8.4" lengthAdjust="spacingAndGlyphs" fill="#345f8e">25</text>
<text x="252.00" y="396.00" font-size="8.0" text-anchor="middle" textLength="8.4" lengthAdjust="spacingAndGlyphs" fill="#345f8e">24</text>
<text x="283.90" y="396.00" font-size="8.0" text-anchor="middle" textLength="8.4" lengthAdjust="spacingAndGlyphs" fill="#345f8e">24</text>
<text x="315.80" y="396.00" font-size="8.0" text-anchor="middle" textLength="8.4" lengthAdjust="spacingAndGlyphs" fill="#345f8e">18</text>
<text x="347.70" y="396.00" font-size="8.0" text-anchor="middle" textLength="8.4" lengthAdjust="spacingAndGlyphs" fill="#345f8e">14</text>
<text x="379.60" y="396.00" font-size="8.0" text-anchor="middle" textLength="4.2" lengthAdjust="spacingAndGlyphs" fill="#345f8e">4</text>
<text x="411.50" y="396.00" font-size="8.0" text-anchor="middle" textLength="4.2" lengthAdjust="spacingAndGlyphs" fill="#345f8e">4</text>
<text x="443.40" y="396.00" font-size="8.0" text-anchor="middle" textLength="4.2" lengthAdjust="spacingAndGlyphs" fill="#345f8e">1</text>
<text x="475.30" y="396.00" font-size="8.0" text-anchor="middle" textLength="4.2" lengthAdjust="spacingAndGlyphs" fill="#345f8e">1</text>
<text x="507.20" y="396.00" font-size="8.0" text-anchor="middle" textLength="4.2" lengthAdjust="spacingAndGlyphs" fill="#345f8e">0</text>
<text x="7.90" y="426.70" font-size="14" font-weight="bold" fill="#111" stroke="#111" stroke-width="0.45">C</text>
<text transform="translate(55.40,470.50) rotate(-90)" x="0" y="0" font-size="9.6" text-anchor="middle" textLength="56.6" lengthAdjust="spacingAndGlyphs" fill="#333" stroke="#333" stroke-width="0.1">Progression-free</text>
<text transform="translate(67.00,470.50) rotate(-90)" x="0" y="0" font-size="9.6" text-anchor="middle" textLength="40.4" lengthAdjust="spacingAndGlyphs" fill="#333" stroke="#333" stroke-width="0.1">survival (%)</text>
<line x1="89.40" y1="522.40" x2="93.00" y2="522.40" stroke="#1a1a1a" stroke-width="1.2"/>
<text x="85.40" y="525.40" font-size="8.3" text-anchor="end" textLength="4.23" lengthAdjust="spacingAndGlyphs" fill="#2a2a2a" stroke="#2a2a2a" stroke-width="0.15">0</text>
<line x1="89.40" y1="503.38" x2="93.00" y2="503.38" stroke="#1a1a1a" stroke-width="1.2"/>
<text x="85.40" y="506.38" font-size="8.3" text-anchor="end" textLength="8.45" lengthAdjust="spacingAndGlyphs" fill="#2a2a2a" stroke="#2a2a2a" stroke-width="0.15">20</text>
<line x1="89.40" y1="484.36" x2="93.00" y2="484.36" stroke="#1a1a1a" stroke-width="1.2"/>
<text x="85.40" y="487.36" font-size="8.3" text-anchor="end" textLength="8.45" lengthAdjust="spacingAndGlyphs" fill="#2a2a2a" stroke="#2a2a2a" stroke-width="0.15">40</text>
<line x1="89.40" y1="465.34" x2="93.00" y2="465.34" stroke="#1a1a1a" stroke-width="1.2"/>
<text x="85.40" y="468.34" font-size="8.3" text-anchor="end" textLength="8.45" lengthAdjust="spacingAndGlyphs" fill="#2a2a2a" stroke="#2a2a2a" stroke-width="0.15">60</text>
<line x1="89.40" y1="446.32" x2="93.00" y2="446.32" stroke="#1a1a1a" stroke-width="1.2"/>
<text x="85.40" y="449.32" font-size="8.3" text-anchor="end" textLength="8.45" lengthAdjust="spacingAndGlyphs" fill="#2a2a2a" stroke="#2a2a2a" stroke-width="0.15">80</text>
<line x1="89.40" y1="427.30" x2="93.00" y2="427.30" stroke="#1a1a1a" stroke-width="1.2"/>
<text x="85.40" y="430.30" font-size="8.3" text-anchor="end" textLength="12.68" lengthAdjust="spacingAndGlyphs" fill="#2a2a2a" stroke="#2a2a2a" stroke-width="0.15">100</text>
<line x1="93.00" y1="522.40" x2="93.00" y2="525.00" stroke="#1a1a1a" stroke-width="1.2"/>
<text x="93.00" y="535.70" font-size="8.3" text-anchor="middle" textLength="4.23" lengthAdjust="spacingAndGlyphs" fill="#2a2a2a" stroke="#2a2a2a" stroke-width="0.15">0</text>
<line x1="124.88" y1="522.40" x2="124.88" y2="525.00" stroke="#1a1a1a" stroke-width="1.2"/>
<text x="124.88" y="535.70" font-size="8.3" text-anchor="middle" textLength="4.23" lengthAdjust="spacingAndGlyphs" fill="#2a2a2a" stroke="#2a2a2a" stroke-width="0.15">3</text>
<line x1="156.75" y1="522.40" x2="156.75" y2="525.00" stroke="#1a1a1a" stroke-width="1.2"/>
<text x="156.75" y="535.70" font-size="8.3" text-anchor="middle" textLength="4.23" lengthAdjust="spacingAndGlyphs" fill="#2a2a2a" stroke="#2a2a2a" stroke-width="0.15">6</text>
<line x1="188.63" y1="522.40" x2="188.63" y2="525.00" stroke="#1a1a1a" stroke-width="1.2"/>
<text x="188.63" y="535.70" font-size="8.3" text-anchor="middle" textLength="4.23" lengthAdjust="spacingAndGlyphs" fill="#2a2a2a" stroke="#2a2a2a" stroke-width="0.15">9</text>
<line x1="220.51" y1="522.40" x2="220.51" y2="525.00" stroke="#1a1a1a" stroke-width="1.2"/>
<text x="220.51" y="535.70" font-size="8.3" text-anchor="middle" textLength="8.45" lengthAdjust="spacingAndGlyphs" fill="#2a2a2a" stroke="#2a2a2a" stroke-width="0.15">12</text>
<line x1="252.38" y1="522.40" x2="252.38" y2="525.00" stroke="#1a1a1a" stroke-width="1.2"/>
<text x="252.38" y="535.70" font-size="8.3" text-anchor="middle" textLength="8.45" lengthAdjust="spacingAndGlyphs" fill="#2a2a2a" stroke="#2a2a2a" stroke-width="0.15">15</text>
<line x1="284.26" y1="522.40" x2="284.26" y2="525.00" stroke="#1a1a1a" stroke-width="1.2"/>
<text x="284.26" y="535.70" font-size="8.3" text-anchor="middle" textLength="8.45" lengthAdjust="spacingAndGlyphs" fill="#2a2a2a" stroke="#2a2a2a" stroke-width="0.15">18</text>
<line x1="316.14" y1="522.40" x2="316.14" y2="525.00" stroke="#1a1a1a" stroke-width="1.2"/>
<text x="316.14" y="535.70" font-size="8.3" text-anchor="middle" textLength="8.45" lengthAdjust="spacingAndGlyphs" fill="#2a2a2a" stroke="#2a2a2a" stroke-width="0.15">21</text>
<line x1="348.02" y1="522.40" x2="348.02" y2="525.00" stroke="#1a1a1a" stroke-width="1.2"/>
<text x="348.02" y="535.70" font-size="8.3" text-anchor="middle" textLength="8.45" lengthAdjust="spacingAndGlyphs" fill="#2a2a2a" stroke="#2a2a2a" stroke-width="0.15">24</text>
<line x1="379.89" y1="522.40" x2="379.89" y2="525.00" stroke="#1a1a1a" stroke-width="1.2"/>
<text x="379.89" y="535.70" font-size="8.3" text-anchor="middle" textLength="8.45" lengthAdjust="spacingAndGlyphs" fill="#2a2a2a" stroke="#2a2a2a" stroke-width="0.15">27</text>
<line x1="411.77" y1="522.40" x2="411.77" y2="525.00" stroke="#1a1a1a" stroke-width="1.2"/>
<text x="411.77" y="535.70" font-size="8.3" text-anchor="middle" textLength="8.45" lengthAdjust="spacingAndGlyphs" fill="#2a2a2a" stroke="#2a2a2a" stroke-width="0.15">30</text>
<line x1="443.65" y1="522.40" x2="443.65" y2="525.00" stroke="#1a1a1a" stroke-width="1.2"/>
<text x="443.65" y="535.70" font-size="8.3" text-anchor="middle" textLength="8.45" lengthAdjust="spacingAndGlyphs" fill="#2a2a2a" stroke="#2a2a2a" stroke-width="0.15">33</text>
<line x1="475.52" y1="522.40" x2="475.52" y2="525.00" stroke="#1a1a1a" stroke-width="1.2"/>
<text x="475.52" y="535.70" font-size="8.3" text-anchor="middle" textLength="8.45" lengthAdjust="spacingAndGlyphs" fill="#2a2a2a" stroke="#2a2a2a" stroke-width="0.15">36</text>
<line x1="507.40" y1="522.40" x2="507.40" y2="525.00" stroke="#1a1a1a" stroke-width="1.2"/>
<text x="507.40" y="535.70" font-size="8.3" text-anchor="middle" textLength="8.45" lengthAdjust="spacingAndGlyphs" fill="#2a2a2a" stroke="#2a2a2a" stroke-width="0.15">39</text>
<line x1="93.00" y1="424.30" x2="93.00" y2="523.00" stroke="#1a1a1a" stroke-width="1.3"/>
<line x1="92.40" y1="522.40" x2="510.90" y2="522.40" stroke="#1a1a1a" stroke-width="1.3"/>
<text x="276.90" y="549.80" font-size="10.0" textLength="50.8" lengthAdjust="spacingAndGlyphs" fill="#222" stroke="#222" stroke-width="0.15">Time (months)</text>
<line x1="348.02" y1="427.30" x2="348.02" y2="522.40" stroke="#222" stroke-width="1.25" stroke-dasharray="1.3 1.6"/>
<path d="M93.00,427.30H105.43V429.20H108.30V432.06H120.63V439.00H137.63V441.95H161.00V444.51H167.38V446.99H207.76V450.79H212.01V452.98H215.19V454.97H325.70V456.31H332.08V458.40H336.33V462.39H343.77V465.91H355.45V469.90H386.27V475.04H502.09V475.04" fill="none" stroke="#2d5f8f" stroke-width="1.2"/>
<path d="M201.38,447.29v-2.8M325.70,456.61v-2.8M328.89,456.61v-2.8M372.45,470.20v-2.8M374.58,470.20v-2.8M384.14,470.20v-2.8M440.46,475.34v-2.8M442.58,475.34v-2.8M455.33,475.34v-2.8" fill="none" stroke="#2d5f8f" stroke-width="1.0"/>
<path d="M93.00,427.30H119.25V430.72H121.69V435.29H137.63V436.81H152.50V438.24H161.00V439.47H167.38V441.56H207.76V445.75H215.19V447.46H331.01V450.03H336.33V453.83H343.77V457.83H385.21V461.63H455.33V461.63" fill="none" stroke="#b82a50" stroke-width="1.2"/>
<path d="M372.45,458.13v-2.8M383.08,458.13v-2.8M440.46,461.93v-2.8M442.58,461.93v-2.8M447.90,461.93v-2.8M455.33,461.93v-2.8" fill="none" stroke="#b82a50" stroke-width="1.0"/>
<path d="M93.00,427.30H105.43V429.20H121.69V435.00H137.63V436.52H161.00V439.47H167.38V442.04H207.76V444.04H286.39V447.08H332.08V450.12H355.45V451.36H379.89V453.26H505.27V453.26" fill="none" stroke="#eea23e" stroke-width="1.2"/>
<path d="M156.75,436.82v-2.8M325.70,447.38v-2.8M379.89,453.56v-2.8M384.14,453.56v-2.8M440.46,453.56v-2.8M445.77,453.56v-2.8M455.33,453.56v-2.8M505.27,453.56v-2.8" fill="none" stroke="#eea23e" stroke-width="1.0"/>
<path d="M93.00,427.30H105.43V429.20H121.69V432.72H137.63V434.43H151.44V436.33H167.38V438.24H181.19V439.47H207.76V440.71H209.88V443.75H286.39V446.22H325.70V448.60H332.08V449.93H355.45V451.36H383.08V453.93H400.08V458.68H502.09V470.00H506.34V470.00" fill="none" stroke="#3f9a52" stroke-width="1.2"/>
<path d="M144.00,434.73v-2.8M241.76,444.05v-2.8M316.14,446.52v-2.8M325.70,448.90v-2.8M328.89,448.90v-2.8M379.89,451.66v-2.8M425.58,458.98v-2.8M440.46,458.98v-2.8M442.58,458.98v-2.8M445.77,458.98v-2.8M455.33,458.98v-2.8M505.27,470.30v-2.8" fill="none" stroke="#3f9a52" stroke-width="1.0"/>
<text x="349.40" y="437.00" font-size="7.5" textLength="14.41" lengthAdjust="spacingAndGlyphs" fill="#3f9a52" stroke="#3f9a52" stroke-width="0.2">76%</text>
<text x="349.40" y="445.90" font-size="7.5" textLength="14.41" lengthAdjust="spacingAndGlyphs" fill="#eea23e" stroke="#eea23e" stroke-width="0.2">76%</text>
<text x="349.40" y="479.10" font-size="7.5" textLength="14.41" lengthAdjust="spacingAndGlyphs" fill="#b82a50" stroke="#b82a50" stroke-width="0.2">68%</text>
<text x="349.40" y="488.40" font-size="7.5" textLength="14.41" lengthAdjust="spacingAndGlyphs" fill="#2d5f8f" stroke="#2d5f8f" stroke-width="0.2">59%</text>
<line x1="95.40" y1="481.20" x2="111.80" y2="481.20" stroke="#3f9a52" stroke-width="1.3"/>
<line x1="103.30" y1="481.20" x2="103.30" y2="479.20" stroke="#3f9a52" stroke-width="0.8"/>
<text x="114.40" y="482.30" font-size="7.8" textLength="192.03" lengthAdjust="spacingAndGlyphs" fill="#1e1e1e">Overall (N = 108); median PFS: NR (95% CI, 38.5 mo–NR)</text>
<line x1="95.40" y1="492.70" x2="111.80" y2="492.70" stroke="#eea23e" stroke-width="1.3"/>
<line x1="103.30" y1="492.70" x2="103.30" y2="490.70" stroke="#eea23e" stroke-width="0.8"/>
<text x="114.40" y="493.80" font-size="7.8" textLength="171.58" lengthAdjust="spacingAndGlyphs" fill="#1e1e1e">POD24 (n = 54); median PFS: NR (95% CI, NR–NR)</text>
<line x1="95.40" y1="504.30" x2="111.80" y2="504.30" stroke="#b82a50" stroke-width="1.3"/>
<line x1="103.30" y1="504.30" x2="103.30" y2="502.30" stroke="#b82a50" stroke-width="0.8"/>
<text x="114.40" y="505.40" font-size="7.8" textLength="221.88" lengthAdjust="spacingAndGlyphs" fill="#1e1e1e">Primary refractory (n = 39); median PFS: NR (95% CI, 23.7 mo–NR)</text>
<line x1="95.40" y1="515.80" x2="111.80" y2="515.80" stroke="#2d5f8f" stroke-width="1.3"/>
<line x1="103.30" y1="515.80" x2="103.30" y2="513.80" stroke="#2d5f8f" stroke-width="0.8"/>
<text x="114.40" y="516.90" font-size="7.8" textLength="223.54" lengthAdjust="spacingAndGlyphs" fill="#1e1e1e">Double refractory (n = 39); median PFS: 27.6 mo (95% CI, 22.5–NR)</text>
<text x="32.50" y="559.80" font-size="8.2" textLength="48.53" lengthAdjust="spacingAndGlyphs" fill="#151515" stroke="#151515" stroke-width="0.1">Patients at risk</text>
<text x="81.70" y="569.60" font-size="8.2" text-anchor="end" textLength="23.6" lengthAdjust="spacingAndGlyphs" fill="#52aa62">Overall</text>
<text x="93.00" y="569.60" font-size="8.0" text-anchor="middle" textLength="12.6" lengthAdjust="spacingAndGlyphs" fill="#52aa62">108</text>
<text x="124.88" y="569.60" font-size="8.0" text-anchor="middle" textLength="8.4" lengthAdjust="spacingAndGlyphs" fill="#52aa62">99</text>
<text x="156.75" y="569.60" font-size="8.0" text-anchor="middle" textLength="8.4" lengthAdjust="spacingAndGlyphs" fill="#52aa62">92</text>
<text x="188.63" y="569.60" font-size="8.0" text-anchor="middle" textLength="8.4" lengthAdjust="spacingAndGlyphs" fill="#52aa62">87</text>
<text x="220.51" y="569.60" font-size="8.0" text-anchor="middle" textLength="8.4" lengthAdjust="spacingAndGlyphs" fill="#52aa62">81</text>
<text x="252.38" y="569.60" font-size="8.0" text-anchor="middle" textLength="8.4" lengthAdjust="spacingAndGlyphs" fill="#52aa62">81</text>
<text x="284.26" y="569.60" font-size="8.0" text-anchor="middle" textLength="8.4" lengthAdjust="spacingAndGlyphs" fill="#52aa62">79</text>
<text x="316.14" y="569.60" font-size="8.0" text-anchor="middle" textLength="8.4" lengthAdjust="spacingAndGlyphs" fill="#52aa62">76</text>
<text x="348.02" y="569.60" font-size="8.0" text-anchor="middle" textLength="8.4" lengthAdjust="spacingAndGlyphs" fill="#52aa62">59</text>
<text x="379.89" y="569.60" font-size="8.0" text-anchor="middle" textLength="8.4" lengthAdjust="spacingAndGlyphs" fill="#52aa62">56</text>
<text x="411.77" y="569.60" font-size="8.0" text-anchor="middle" textLength="8.4" lengthAdjust="spacingAndGlyphs" fill="#52aa62">22</text>
<text x="443.65" y="569.60" font-size="8.0" text-anchor="middle" textLength="8.4" lengthAdjust="spacingAndGlyphs" fill="#52aa62">16</text>
<text x="475.52" y="569.60" font-size="8.0" text-anchor="middle" textLength="4.2" lengthAdjust="spacingAndGlyphs" fill="#52aa62">8</text>
<text x="507.40" y="569.60" font-size="8.0" text-anchor="middle" textLength="4.2" lengthAdjust="spacingAndGlyphs" fill="#52aa62">0</text>
<text x="81.70" y="579.40" font-size="8.2" text-anchor="end" textLength="24.43" lengthAdjust="spacingAndGlyphs" fill="#f0a24a">POD24</text>
<text x="93.00" y="579.40" font-size="8.0" text-anchor="middle" textLength="8.4" lengthAdjust="spacingAndGlyphs" fill="#f0a24a">54</text>
<text x="124.88" y="579.40" font-size="8.0" text-anchor="middle" textLength="8.4" lengthAdjust="spacingAndGlyphs" fill="#f0a24a">48</text>
<text x="156.75" y="579.40" font-size="8.0" text-anchor="middle" textLength="8.4" lengthAdjust="spacingAndGlyphs" fill="#f0a24a">45</text>
<text x="188.63" y="579.40" font-size="8.0" text-anchor="middle" textLength="8.4" lengthAdjust="spacingAndGlyphs" fill="#f0a24a">42</text>
<text x="220.51" y="579.40" font-size="8.0" text-anchor="middle" textLength="8.4" lengthAdjust="spacingAndGlyphs" fill="#f0a24a">40</text>
<text x="252.38" y="579.40" font-size="8.0" text-anchor="middle" textLength="8.4" lengthAdjust="spacingAndGlyphs" fill="#f0a24a">40</text>
<text x="284.26" y="579.40" font-size="8.0" text-anchor="middle" textLength="8.4" lengthAdjust="spacingAndGlyphs" fill="#f0a24a">40</text>
<text x="316.14" y="579.40" font-size="8.0" text-anchor="middle" textLength="8.4" lengthAdjust="spacingAndGlyphs" fill="#f0a24a">38</text>
<text x="348.02" y="579.40" font-size="8.0" text-anchor="middle" textLength="8.4" lengthAdjust="spacingAndGlyphs" fill="#f0a24a">29</text>
<text x="379.89" y="579.40" font-size="8.0" text-anchor="middle" textLength="8.4" lengthAdjust="spacingAndGlyphs" fill="#f0a24a">27</text>
<text x="411.77" y="579.40" font-size="8.0" text-anchor="middle" textLength="8.4" lengthAdjust="spacingAndGlyphs" fill="#f0a24a">10</text>
<text x="443.65" y="579.40" font-size="8.0" text-anchor="middle" textLength="4.2" lengthAdjust="spacingAndGlyphs" fill="#f0a24a">7</text>
<text x="475.52" y="579.40" font-size="8.0" text-anchor="middle" textLength="4.2" lengthAdjust="spacingAndGlyphs" fill="#f0a24a">2</text>
<text x="507.40" y="579.40" font-size="8.0" text-anchor="middle" textLength="4.2" lengthAdjust="spacingAndGlyphs" fill="#f0a24a">0</text>
<text x="81.70" y="589.40" font-size="8.2" text-anchor="end" textLength="59.19" lengthAdjust="spacingAndGlyphs" fill="#c42c5c">Primary refractory</text>
<text x="93.00" y="589.40" font-size="8.0" text-anchor="middle" textLength="8.4" lengthAdjust="spacingAndGlyphs" fill="#c42c5c">39</text>
<text x="124.88" y="589.40" font-size="8.0" text-anchor="middle" textLength="8.4" lengthAdjust="spacingAndGlyphs" fill="#c42c5c">36</text>
<text x="156.75" y="589.40" font-size="8.0" text-anchor="middle" textLength="8.4" lengthAdjust="spacingAndGlyphs" fill="#c42c5c">34</text>
<text x="188.63" y="589.40" font-size="8.0" text-anchor="middle" textLength="8.4" lengthAdjust="spacingAndGlyphs" fill="#c42c5c">31</text>
<text x="220.51" y="589.40" font-size="8.0" text-anchor="middle" textLength="8.4" lengthAdjust="spacingAndGlyphs" fill="#c42c5c">27</text>
<text x="252.38" y="589.40" font-size="8.0" text-anchor="middle" textLength="8.4" lengthAdjust="spacingAndGlyphs" fill="#c42c5c">27</text>
<text x="284.26" y="589.40" font-size="8.0" text-anchor="middle" textLength="8.4" lengthAdjust="spacingAndGlyphs" fill="#c42c5c">27</text>
<text x="316.14" y="589.40" font-size="8.0" text-anchor="middle" textLength="8.4" lengthAdjust="spacingAndGlyphs" fill="#c42c5c">27</text>
<text x="348.02" y="589.40" font-size="8.0" text-anchor="middle" textLength="8.4" lengthAdjust="spacingAndGlyphs" fill="#c42c5c">19</text>
<text x="379.89" y="589.40" font-size="8.0" text-anchor="middle" textLength="8.4" lengthAdjust="spacingAndGlyphs" fill="#c42c5c">18</text>
<text x="411.77" y="589.40" font-size="8.0" text-anchor="middle" textLength="4.2" lengthAdjust="spacingAndGlyphs" fill="#c42c5c">6</text>
<text x="443.65" y="589.40" font-size="8.0" text-anchor="middle" textLength="4.2" lengthAdjust="spacingAndGlyphs" fill="#c42c5c">3</text>
<text x="475.52" y="589.40" font-size="8.0" text-anchor="middle" textLength="4.2" lengthAdjust="spacingAndGlyphs" fill="#c42c5c">0</text>
<text x="507.40" y="589.40" font-size="8.0" text-anchor="middle" textLength="4.2" lengthAdjust="spacingAndGlyphs" fill="#c42c5c">0</text>
<text x="81.70" y="599.20" font-size="8.2" text-anchor="end" textLength="57.14" lengthAdjust="spacingAndGlyphs" fill="#345f8e">Double refractory</text>
<text x="93.00" y="599.20" font-size="8.0" text-anchor="middle" textLength="8.4" lengthAdjust="spacingAndGlyphs" fill="#345f8e">39</text>
<text x="124.88" y="599.20" font-size="8.0" text-anchor="middle" textLength="8.4" lengthAdjust="spacingAndGlyphs" fill="#345f8e">34</text>
<text x="156.75" y="599.20" font-size="8.0" text-anchor="middle" textLength="8.4" lengthAdjust="spacingAndGlyphs" fill="#345f8e">32</text>
<text x="188.63" y="599.20" font-size="8.0" text-anchor="middle" textLength="8.4" lengthAdjust="spacingAndGlyphs" fill="#345f8e">29</text>
<text x="220.51" y="599.20" font-size="8.0" text-anchor="middle" textLength="8.4" lengthAdjust="spacingAndGlyphs" fill="#345f8e">25</text>
<text x="252.38" y="599.20" font-size="8.0" text-anchor="middle" textLength="8.4" lengthAdjust="spacingAndGlyphs" fill="#345f8e">25</text>
<text x="284.26" y="599.20" font-size="8.0" text-anchor="middle" textLength="8.4" lengthAdjust="spacingAndGlyphs" fill="#345f8e">25</text>
<text x="316.14" y="599.20" font-size="8.0" text-anchor="middle" textLength="8.4" lengthAdjust="spacingAndGlyphs" fill="#345f8e">25</text>
<text x="348.02" y="599.20" font-size="8.0" text-anchor="middle" textLength="8.4" lengthAdjust="spacingAndGlyphs" fill="#345f8e">15</text>
<text x="379.89" y="599.20" font-size="8.0" text-anchor="middle" textLength="8.4" lengthAdjust="spacingAndGlyphs" fill="#345f8e">13</text>
<text x="411.77" y="599.20" font-size="8.0" text-anchor="middle" textLength="4.2" lengthAdjust="spacingAndGlyphs" fill="#345f8e">4</text>
<text x="443.65" y="599.20" font-size="8.0" text-anchor="middle" textLength="4.2" lengthAdjust="spacingAndGlyphs" fill="#345f8e">2</text>
<text x="475.52" y="599.20" font-size="8.0" text-anchor="middle" textLength="4.2" lengthAdjust="spacingAndGlyphs" fill="#345f8e">1</text>
<text x="507.40" y="599.20" font-size="8.0" text-anchor="middle" textLength="4.2" lengthAdjust="spacingAndGlyphs" fill="#345f8e">0</text>
<text x="7.90" y="629.60" font-size="14" font-weight="bold" fill="#111" stroke="#111" stroke-width="0.45">D</text>
<text transform="translate(67.00,679.80) rotate(-90)" x="0" y="0" font-size="9.4" text-anchor="middle" textLength="66" lengthAdjust="spacingAndGlyphs" fill="#333" stroke="#333" stroke-width="0.1">Overall survival (%)</text>
<line x1="89.40" y1="731.40" x2="93.00" y2="731.40" stroke="#1a1a1a" stroke-width="1.2"/>
<text x="85.40" y="734.40" font-size="8.3" text-anchor="end" textLength="4.23" lengthAdjust="spacingAndGlyphs" fill="#2a2a2a" stroke="#2a2a2a" stroke-width="0.15">0</text>
<line x1="89.40" y1="712.42" x2="93.00" y2="712.42" stroke="#1a1a1a" stroke-width="1.2"/>
<text x="85.40" y="715.42" font-size="8.3" text-anchor="end" textLength="8.45" lengthAdjust="spacingAndGlyphs" fill="#2a2a2a" stroke="#2a2a2a" stroke-width="0.15">20</text>
<line x1="89.40" y1="693.44" x2="93.00" y2="693.44" stroke="#1a1a1a" stroke-width="1.2"/>
<text x="85.40" y="696.44" font-size="8.3" text-anchor="end" textLength="8.45" lengthAdjust="spacingAndGlyphs" fill="#2a2a2a" stroke="#2a2a2a" stroke-width="0.15">40</text>
<line x1="89.40" y1="674.46" x2="93.00" y2="674.46" stroke="#1a1a1a" stroke-width="1.2"/>
<text x="85.40" y="677.46" font-size="8.3" text-anchor="end" textLength="8.45" lengthAdjust="spacingAndGlyphs" fill="#2a2a2a" stroke="#2a2a2a" stroke-width="0.15">60</text>
<line x1="89.40" y1="655.48" x2="93.00" y2="655.48" stroke="#1a1a1a" stroke-width="1.2"/>
<text x="85.40" y="658.48" font-size="8.3" text-anchor="end" textLength="8.45" lengthAdjust="spacingAndGlyphs" fill="#2a2a2a" stroke="#2a2a2a" stroke-width="0.15">80</text>
<line x1="89.40" y1="636.50" x2="93.00" y2="636.50" stroke="#1a1a1a" stroke-width="1.2"/>
<text x="85.40" y="639.50" font-size="8.3" text-anchor="end" textLength="12.68" lengthAdjust="spacingAndGlyphs" fill="#2a2a2a" stroke="#2a2a2a" stroke-width="0.15">100</text>
<line x1="93.00" y1="731.40" x2="93.00" y2="734.00" stroke="#1a1a1a" stroke-width="1.2"/>
<text x="93.00" y="744.70" font-size="8.3" text-anchor="middle" textLength="4.23" lengthAdjust="spacingAndGlyphs" fill="#2a2a2a" stroke="#2a2a2a" stroke-width="0.15">0</text>
<line x1="124.88" y1="731.40" x2="124.88" y2="734.00" stroke="#1a1a1a" stroke-width="1.2"/>
<text x="124.88" y="744.70" font-size="8.3" text-anchor="middle" textLength="4.23" lengthAdjust="spacingAndGlyphs" fill="#2a2a2a" stroke="#2a2a2a" stroke-width="0.15">3</text>
<line x1="156.75" y1="731.40" x2="156.75" y2="734.00" stroke="#1a1a1a" stroke-width="1.2"/>
<text x="156.75" y="744.70" font-size="8.3" text-anchor="middle" textLength="4.23" lengthAdjust="spacingAndGlyphs" fill="#2a2a2a" stroke="#2a2a2a" stroke-width="0.15">6</text>
<line x1="188.63" y1="731.40" x2="188.63" y2="734.00" stroke="#1a1a1a" stroke-width="1.2"/>
<text x="188.63" y="744.70" font-size="8.3" text-anchor="middle" textLength="4.23" lengthAdjust="spacingAndGlyphs" fill="#2a2a2a" stroke="#2a2a2a" stroke-width="0.15">9</text>
<line x1="220.51" y1="731.40" x2="220.51" y2="734.00" stroke="#1a1a1a" stroke-width="1.2"/>
<text x="220.51" y="744.70" font-size="8.3" text-anchor="middle" textLength="8.45" lengthAdjust="spacingAndGlyphs" fill="#2a2a2a" stroke="#2a2a2a" stroke-width="0.15">12</text>
<line x1="252.38" y1="731.40" x2="252.38" y2="734.00" stroke="#1a1a1a" stroke-width="1.2"/>
<text x="252.38" y="744.70" font-size="8.3" text-anchor="middle" textLength="8.45" lengthAdjust="spacingAndGlyphs" fill="#2a2a2a" stroke="#2a2a2a" stroke-width="0.15">15</text>
<line x1="284.26" y1="731.40" x2="284.26" y2="734.00" stroke="#1a1a1a" stroke-width="1.2"/>
<text x="284.26" y="744.70" font-size="8.3" text-anchor="middle" textLength="8.45" lengthAdjust="spacingAndGlyphs" fill="#2a2a2a" stroke="#2a2a2a" stroke-width="0.15">18</text>
<line x1="316.14" y1="731.40" x2="316.14" y2="734.00" stroke="#1a1a1a" stroke-width="1.2"/>
<text x="316.14" y="744.70" font-size="8.3" text-anchor="middle" textLength="8.45" lengthAdjust="spacingAndGlyphs" fill="#2a2a2a" stroke="#2a2a2a" stroke-width="0.15">21</text>
<line x1="348.02" y1="731.40" x2="348.02" y2="734.00" stroke="#1a1a1a" stroke-width="1.2"/>
<text x="348.02" y="744.70" font-size="8.3" text-anchor="middle" textLength="8.45" lengthAdjust="spacingAndGlyphs" fill="#2a2a2a" stroke="#2a2a2a" stroke-width="0.15">24</text>
<line x1="379.89" y1="731.40" x2="379.89" y2="734.00" stroke="#1a1a1a" stroke-width="1.2"/>
<text x="379.89" y="744.70" font-size="8.3" text-anchor="middle" textLength="8.45" lengthAdjust="spacingAndGlyphs" fill="#2a2a2a" stroke="#2a2a2a" stroke-width="0.15">27</text>
<line x1="411.77" y1="731.40" x2="411.77" y2="734.00" stroke="#1a1a1a" stroke-width="1.2"/>
<text x="411.77" y="744.70" font-size="8.3" text-anchor="middle" textLength="8.45" lengthAdjust="spacingAndGlyphs" fill="#2a2a2a" stroke="#2a2a2a" stroke-width="0.15">30</text>
<line x1="443.65" y1="731.40" x2="443.65" y2="734.00" stroke="#1a1a1a" stroke-width="1.2"/>
<text x="443.65" y="744.70" font-size="8.3" text-anchor="middle" textLength="8.45" lengthAdjust="spacingAndGlyphs" fill="#2a2a2a" stroke="#2a2a2a" stroke-width="0.15">33</text>
<line x1="475.52" y1="731.40" x2="475.52" y2="734.00" stroke="#1a1a1a" stroke-width="1.2"/>
<text x="475.52" y="744.70" font-size="8.3" text-anchor="middle" textLength="8.45" lengthAdjust="spacingAndGlyphs" fill="#2a2a2a" stroke="#2a2a2a" stroke-width="0.15">36</text>
<line x1="507.40" y1="731.40" x2="507.40" y2="734.00" stroke="#1a1a1a" stroke-width="1.2"/>
<text x="507.40" y="744.70" font-size="8.3" text-anchor="middle" textLength="8.45" lengthAdjust="spacingAndGlyphs" fill="#2a2a2a" stroke="#2a2a2a" stroke-width="0.15">39</text>
<line x1="93.00" y1="633.50" x2="93.00" y2="732.00" stroke="#1a1a1a" stroke-width="1.3"/>
<line x1="92.40" y1="731.40" x2="510.90" y2="731.40" stroke="#1a1a1a" stroke-width="1.3"/>
<text x="276.90" y="758.80" font-size="10.0" textLength="50.8" lengthAdjust="spacingAndGlyphs" fill="#222" stroke="#222" stroke-width="0.15">Time (months)</text>
<line x1="348.02" y1="636.50" x2="348.02" y2="731.40" stroke="#222" stroke-width="1.25" stroke-dasharray="1.3 1.6"/>
<path d="M93.00,636.50H160.47V640.77H264.07V644.00H287.45V645.99H342.70V648.93H480.84V648.93" fill="none" stroke="#2d5f8f" stroke-width="1.2"/>
<path d="M353.33,649.23v-2.8M360.77,649.23v-2.8M367.14,649.23v-2.8M370.33,649.23v-2.8M448.96,649.23v-2.8" fill="none" stroke="#2d5f8f" stroke-width="1.0"/>
<path d="M93.00,636.50H118.50V638.30H154.63V639.35H264.07V642.10H287.45V644.47H344.83V647.03H372.45V648.65H480.84V648.65" fill="none" stroke="#b82a50" stroke-width="1.2"/>
<path d="M351.20,647.33v-2.8M357.58,647.33v-2.8M365.02,647.33v-2.8M369.27,647.33v-2.8M413.89,648.95v-2.8" fill="none" stroke="#b82a50" stroke-width="1.0"/>
<path d="M93.00,636.50H118.50V638.30H202.44V640.77H287.45V644.47H344.83V647.32H372.45V648.65H505.27V648.65" fill="none" stroke="#eea23e" stroke-width="1.2"/>
<path d="M351.20,647.62v-2.8M358.64,647.62v-2.8M363.95,647.62v-2.8M369.27,647.62v-2.8M400.08,648.95v-2.8M413.89,648.95v-2.8M438.33,648.95v-2.8M470.21,648.95v-2.8" fill="none" stroke="#eea23e" stroke-width="1.0"/>
<path d="M93.00,636.50H160.47V640.77H264.07V642.10H287.45V643.71H346.95V644.85H372.45V646.46H505.27V646.46" fill="none" stroke="#3f9a52" stroke-width="1.2"/>
<path d="M349.08,645.15v-2.8M354.39,645.15v-2.8M358.64,645.15v-2.8M362.89,645.15v-2.8M367.14,645.15v-2.8M374.58,646.76v-2.8M379.89,646.76v-2.8M383.08,646.76v-2.8M385.21,646.76v-2.8M390.52,646.76v-2.8M394.77,646.76v-2.8M402.21,646.76v-2.8M407.52,646.76v-2.8M417.08,646.76v-2.8M420.27,646.76v-2.8M425.58,646.76v-2.8M430.90,646.76v-2.8M434.08,646.76v-2.8M438.33,646.76v-2.8M441.52,646.76v-2.8M446.83,646.76v-2.8M453.21,646.76v-2.8M458.52,646.76v-2.8M465.96,646.76v-2.8M472.34,646.76v-2.8M477.65,646.76v-2.8M482.96,646.76v-2.8M488.27,646.76v-2.8M492.52,646.76v-2.8M496.77,646.76v-2.8M499.96,646.76v-2.8M503.15,646.76v-2.8M505.27,646.76v-2.8" fill="none" stroke="#3f9a52" stroke-width="1.0"/>
<text x="349.40" y="632.70" font-size="7.5" textLength="14.41" lengthAdjust="spacingAndGlyphs" fill="#3f9a52" stroke="#3f9a52" stroke-width="0.2">90%</text>
<text x="349.40" y="641.60" font-size="7.5" textLength="14.41" lengthAdjust="spacingAndGlyphs" fill="#b82a50" stroke="#b82a50" stroke-width="0.2">89%</text>
<text x="349.40" y="658.90" font-size="7.5" textLength="14.41" lengthAdjust="spacingAndGlyphs" fill="#eea23e" stroke="#eea23e" stroke-width="0.2">88%</text>
<text x="349.40" y="667.70" font-size="7.5" textLength="14.41" lengthAdjust="spacingAndGlyphs" fill="#2d5f8f" stroke="#2d5f8f" stroke-width="0.2">87%</text>
<line x1="95.40" y1="690.20" x2="111.80" y2="690.20" stroke="#3f9a52" stroke-width="1.3"/>
<line x1="103.30" y1="690.20" x2="103.30" y2="688.20" stroke="#3f9a52" stroke-width="0.8"/>
<text x="114.40" y="691.30" font-size="7.8" textLength="172.39" lengthAdjust="spacingAndGlyphs" fill="#1e1e1e">Overall (N = 108); median OS: NR (95% CI, NR–NR)</text>
<line x1="95.40" y1="701.70" x2="111.80" y2="701.70" stroke="#eea23e" stroke-width="1.3"/>
<line x1="103.30" y1="701.70" x2="103.30" y2="699.70" stroke="#eea23e" stroke-width="0.8"/>
<text x="114.40" y="702.80" font-size="7.8" textLength="167.9" lengthAdjust="spacingAndGlyphs" fill="#1e1e1e">POD24 (n = 54); median OS: NR (95% CI, NR–NR)</text>
<line x1="95.40" y1="713.40" x2="111.80" y2="713.40" stroke="#b82a50" stroke-width="1.3"/>
<line x1="103.30" y1="713.40" x2="103.30" y2="711.40" stroke="#b82a50" stroke-width="0.8"/>
<text x="114.40" y="714.50" font-size="7.8" textLength="202.24" lengthAdjust="spacingAndGlyphs" fill="#1e1e1e">Primary refractory (n = 39); median OS: NR (95% CI, NR–NR)</text>
<line x1="95.40" y1="724.80" x2="111.80" y2="724.80" stroke="#2d5f8f" stroke-width="1.3"/>
<line x1="103.30" y1="724.80" x2="103.30" y2="722.80" stroke="#2d5f8f" stroke-width="0.8"/>
<text x="114.40" y="725.90" font-size="7.8" textLength="200.21" lengthAdjust="spacingAndGlyphs" fill="#1e1e1e">Double refractory (n = 39); median OS: NR (95% CI, NR–NR)</text>
<text x="32.50" y="768.80" font-size="8.2" textLength="48.53" lengthAdjust="spacingAndGlyphs" fill="#151515" stroke="#151515" stroke-width="0.1">Patients at risk</text>
<text x="81.70" y="778.60" font-size="8.2" text-anchor="end" textLength="23.6" lengthAdjust="spacingAndGlyphs" fill="#52aa62">Overall</text>
<text x="93.00" y="778.60" font-size="8.0" text-anchor="middle" textLength="12.6" lengthAdjust="spacingAndGlyphs" fill="#52aa62">108</text>
<text x="124.88" y="778.60" font-size="8.0" text-anchor="middle" textLength="12.6" lengthAdjust="spacingAndGlyphs" fill="#52aa62">107</text>
<text x="156.75" y="778.60" font-size="8.0" text-anchor="middle" textLength="12.6" lengthAdjust="spacingAndGlyphs" fill="#52aa62">105</text>
<text x="188.63" y="778.60" font-size="8.0" text-anchor="middle" textLength="12.6" lengthAdjust="spacingAndGlyphs" fill="#52aa62">101</text>
<text x="220.51" y="778.60" font-size="8.0" text-anchor="middle" textLength="12.6" lengthAdjust="spacingAndGlyphs" fill="#52aa62">100</text>
<text x="252.38" y="778.60" font-size="8.0" text-anchor="middle" textLength="12.6" lengthAdjust="spacingAndGlyphs" fill="#52aa62">100</text>
<text x="284.26" y="778.60" font-size="8.0" text-anchor="middle" textLength="8.4" lengthAdjust="spacingAndGlyphs" fill="#52aa62">99</text>
<text x="316.14" y="778.60" font-size="8.0" text-anchor="middle" textLength="8.4" lengthAdjust="spacingAndGlyphs" fill="#52aa62">95</text>
<text x="348.02" y="778.60" font-size="8.0" text-anchor="middle" textLength="8.4" lengthAdjust="spacingAndGlyphs" fill="#52aa62">84</text>
<text x="379.89" y="778.60" font-size="8.0" text-anchor="middle" textLength="8.4" lengthAdjust="spacingAndGlyphs" fill="#52aa62">73</text>
<text x="411.77" y="778.60" font-size="8.0" text-anchor="middle" textLength="8.4" lengthAdjust="spacingAndGlyphs" fill="#52aa62">38</text>
<text x="443.65" y="778.60" font-size="8.0" text-anchor="middle" textLength="8.4" lengthAdjust="spacingAndGlyphs" fill="#52aa62">27</text>
<text x="475.52" y="778.60" font-size="8.0" text-anchor="middle" textLength="8.4" lengthAdjust="spacingAndGlyphs" fill="#52aa62">16</text>
<text x="507.40" y="778.60" font-size="8.0" text-anchor="middle" textLength="4.2" lengthAdjust="spacingAndGlyphs" fill="#52aa62">0</text>
<text x="81.70" y="788.40" font-size="8.2" text-anchor="end" textLength="24.43" lengthAdjust="spacingAndGlyphs" fill="#f0a24a">POD24</text>
<text x="93.00" y="788.40" font-size="8.0" text-anchor="middle" textLength="8.4" lengthAdjust="spacingAndGlyphs" fill="#f0a24a">54</text>
<text x="124.88" y="788.40" font-size="8.0" text-anchor="middle" textLength="8.4" lengthAdjust="spacingAndGlyphs" fill="#f0a24a">53</text>
<text x="156.75" y="788.40" font-size="8.0" text-anchor="middle" textLength="8.4" lengthAdjust="spacingAndGlyphs" fill="#f0a24a">53</text>
<text x="188.63" y="788.40" font-size="8.0" text-anchor="middle" textLength="8.4" lengthAdjust="spacingAndGlyphs" fill="#f0a24a">51</text>
<text x="220.51" y="788.40" font-size="8.0" text-anchor="middle" textLength="8.4" lengthAdjust="spacingAndGlyphs" fill="#f0a24a">51</text>
<text x="252.38" y="788.40" font-size="8.0" text-anchor="middle" textLength="8.4" lengthAdjust="spacingAndGlyphs" fill="#f0a24a">51</text>
<text x="284.26" y="788.40" font-size="8.0" text-anchor="middle" textLength="8.4" lengthAdjust="spacingAndGlyphs" fill="#f0a24a">50</text>
<text x="316.14" y="788.40" font-size="8.0" text-anchor="middle" textLength="8.4" lengthAdjust="spacingAndGlyphs" fill="#f0a24a">47</text>
<text x="348.02" y="788.40" font-size="8.0" text-anchor="middle" textLength="8.4" lengthAdjust="spacingAndGlyphs" fill="#f0a24a">39</text>
<text x="379.89" y="788.40" font-size="8.0" text-anchor="middle" textLength="8.4" lengthAdjust="spacingAndGlyphs" fill="#f0a24a">34</text>
<text x="411.77" y="788.40" font-size="8.0" text-anchor="middle" textLength="8.4" lengthAdjust="spacingAndGlyphs" fill="#f0a24a">15</text>
<text x="443.65" y="788.40" font-size="8.0" text-anchor="middle" textLength="8.4" lengthAdjust="spacingAndGlyphs" fill="#f0a24a">10</text>
<text x="475.52" y="788.40" font-size="8.0" text-anchor="middle" textLength="4.2" lengthAdjust="spacingAndGlyphs" fill="#f0a24a">5</text>
<text x="507.40" y="788.40" font-size="8.0" text-anchor="middle" textLength="4.2" lengthAdjust="spacingAndGlyphs" fill="#f0a24a">0</text>
<text x="81.70" y="798.60" font-size="8.2" text-anchor="end" textLength="59.19" lengthAdjust="spacingAndGlyphs" fill="#c42c5c">Primary refractory</text>
<text x="93.00" y="798.60" font-size="8.0" text-anchor="middle" textLength="8.4" lengthAdjust="spacingAndGlyphs" fill="#c42c5c">39</text>
<text x="124.88" y="798.60" font-size="8.0" text-anchor="middle" textLength="8.4" lengthAdjust="spacingAndGlyphs" fill="#c42c5c">39</text>
<text x="156.75" y="798.60" font-size="8.0" text-anchor="middle" textLength="8.4" lengthAdjust="spacingAndGlyphs" fill="#c42c5c">39</text>
<text x="188.63" y="798.60" font-size="8.0" text-anchor="middle" textLength="8.4" lengthAdjust="spacingAndGlyphs" fill="#c42c5c">37</text>
<text x="220.51" y="798.60" font-size="8.0" text-anchor="middle" textLength="8.4" lengthAdjust="spacingAndGlyphs" fill="#c42c5c">37</text>
<text x="252.38" y="798.60" font-size="8.0" text-anchor="middle" textLength="8.4" lengthAdjust="spacingAndGlyphs" fill="#c42c5c">37</text>
<text x="284.26" y="798.60" font-size="8.0" text-anchor="middle" textLength="8.4" lengthAdjust="spacingAndGlyphs" fill="#c42c5c">36</text>
<text x="316.14" y="798.60" font-size="8.0" text-anchor="middle" textLength="8.4" lengthAdjust="spacingAndGlyphs" fill="#c42c5c">35</text>
<text x="348.02" y="798.60" font-size="8.0" text-anchor="middle" textLength="8.4" lengthAdjust="spacingAndGlyphs" fill="#c42c5c">30</text>
<text x="379.89" y="798.60" font-size="8.0" text-anchor="middle" textLength="8.4" lengthAdjust="spacingAndGlyphs" fill="#c42c5c">27</text>
<text x="411.77" y="798.60" font-size="8.0" text-anchor="middle" textLength="8.4" lengthAdjust="spacingAndGlyphs" fill="#c42c5c">14</text>
<text x="443.65" y="798.60" font-size="8.0" text-anchor="middle" textLength="8.4" lengthAdjust="spacingAndGlyphs" fill="#c42c5c">10</text>
<text x="475.52" y="798.60" font-size="8.0" text-anchor="middle" textLength="4.2" lengthAdjust="spacingAndGlyphs" fill="#c42c5c">6</text>
<text x="507.40" y="798.60" font-size="8.0" text-anchor="middle" textLength="4.2" lengthAdjust="spacingAndGlyphs" fill="#c42c5c">0</text>
<text x="81.70" y="808.30" font-size="8.2" text-anchor="end" textLength="57.14" lengthAdjust="spacingAndGlyphs" fill="#345f8e">Double refractory</text>
<text x="93.00" y="808.30" font-size="8.0" text-anchor="middle" textLength="8.4" lengthAdjust="spacingAndGlyphs" fill="#345f8e">39</text>
<text x="124.88" y="808.30" font-size="8.0" text-anchor="middle" textLength="8.4" lengthAdjust="spacingAndGlyphs" fill="#345f8e">39</text>
<text x="156.75" y="808.30" font-size="8.0" text-anchor="middle" textLength="8.4" lengthAdjust="spacingAndGlyphs" fill="#345f8e">38</text>
<text x="188.63" y="808.30" font-size="8.0" text-anchor="middle" textLength="8.4" lengthAdjust="spacingAndGlyphs" fill="#345f8e">36</text>
<text x="220.51" y="808.30" font-size="8.0" text-anchor="middle" textLength="8.4" lengthAdjust="spacingAndGlyphs" fill="#345f8e">36</text>
<text x="252.38" y="808.30" font-size="8.0" text-anchor="middle" textLength="8.4" lengthAdjust="spacingAndGlyphs" fill="#345f8e">36</text>
<text x="284.26" y="808.30" font-size="8.0" text-anchor="middle" textLength="8.4" lengthAdjust="spacingAndGlyphs" fill="#345f8e">35</text>
<text x="316.14" y="808.30" font-size="8.0" text-anchor="middle" textLength="8.4" lengthAdjust="spacingAndGlyphs" fill="#345f8e">34</text>
<text x="348.02" y="808.30" font-size="8.0" text-anchor="middle" textLength="8.4" lengthAdjust="spacingAndGlyphs" fill="#345f8e">27</text>
<text x="379.89" y="808.30" font-size="8.0" text-anchor="middle" textLength="8.4" lengthAdjust="spacingAndGlyphs" fill="#345f8e">23</text>
<text x="411.77" y="808.30" font-size="8.0" text-anchor="middle" textLength="8.4" lengthAdjust="spacingAndGlyphs" fill="#345f8e">13</text>
<text x="443.65" y="808.30" font-size="8.0" text-anchor="middle" textLength="4.2" lengthAdjust="spacingAndGlyphs" fill="#345f8e">8</text>
<text x="475.52" y="808.30" font-size="8.0" text-anchor="middle" textLength="4.2" lengthAdjust="spacingAndGlyphs" fill="#345f8e">6</text>
<text x="507.40" y="808.30" font-size="8.0" text-anchor="middle" textLength="4.2" lengthAdjust="spacingAndGlyphs" fill="#345f8e">0</text>
</svg>
</body></html>
